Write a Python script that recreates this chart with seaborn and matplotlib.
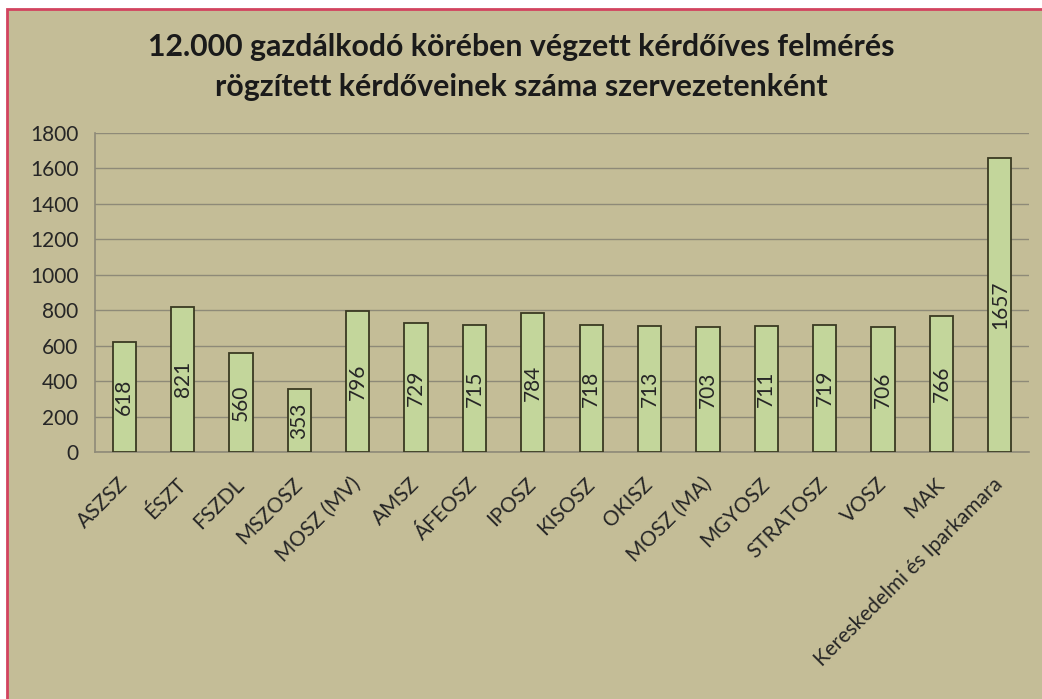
import matplotlib
matplotlib.use("Agg")
import matplotlib.pyplot as plt
import seaborn as sns
import pandas as pd
from matplotlib.patches import Rectangle
from matplotlib.ticker import MultipleLocator, FixedLocator

# --- data ---
szervezetek = ["ASZSZ", "ÉSZT", "FSZDL", "MSZOSZ", "MOSZ (MV)", "AMSZ", "ÁFEOSZ",
               "IPOSZ", "KISOSZ", "OKISZ", "MOSZ (MA)", "MGYOSZ", "STRATOSZ",
               "VOSZ", "MAK", "Kereskedelmi és Iparkamara"]
kerdoivek = [618, 821, 560, 353, 796, 729, 715, 784, 718, 713, 703, 711, 719,
             706, 766, 1657]
cim_sorok = ["12.000 gazdálkodó körében végzett kérdőíves felmérés",
             "rögzített kérdőveinek száma szervezetenként"]

BG = "#C4BD97"
BAR = "#C3D69B"
EDGE = "#3A3A22"
GRID = "#8E8A78"
TXT = "#262626"

sns.set_style("white")
plt.rcParams["font.family"] = ["Lato", "DejaVu Sans"]

df = pd.DataFrame({"szervezet": szervezetek, "db": kerdoivek})

fig = plt.figure(figsize=(10.42, 6.99), dpi=100, facecolor="white")
# tan panel with red frame (top and left edges visible)
fig.patches.append(Rectangle((7 / 1042, -0.01), 1.1, 1 - 9 / 699 + 0.01,
                             transform=fig.transFigure, facecolor=BG,
                             edgecolor="#D2435F", linewidth=2, zorder=-10))

ax = fig.add_axes([95 / 1042, 1 - 452 / 699, 934 / 1042, 319 / 699], zorder=1)
ax.set_facecolor("none")

sns.barplot(data=df, x="szervezet", y="db", color=BAR, width=0.4,
            edgecolor=EDGE, linewidth=1.3, saturation=1, ax=ax, zorder=3)

# data labels, vertical, centred in bar
for i, v in enumerate(kerdoivek):
    ax.text(i, v / 2, str(v), rotation=90, ha="center", va="center",
            fontsize=15, color=TXT, zorder=4)

ax.set_xlim(-0.5, len(szervezetek) - 0.5)
ax.set_ylim(0, 1800)
ax.yaxis.set_major_locator(MultipleLocator(200))
ax.grid(axis="y", color=GRID, linewidth=1, zorder=0)
ax.set_axisbelow(True)

for s in ["top", "right"]:
    ax.spines[s].set_visible(False)
for s in ["left", "bottom"]:
    ax.spines[s].set_color(GRID)
    ax.spines[s].set_linewidth(1.2)

ax.tick_params(axis="y", length=6, color=GRID, labelsize=15, labelcolor=TXT, pad=6)
ax.tick_params(axis="x", which="major", length=0, labelsize=15, labelcolor=TXT, pad=21)
ax.xaxis.set_minor_locator(FixedLocator([k - 0.5 for k in range(len(szervezetek) + 1)]))
ax.tick_params(axis="x", which="minor", length=6, color=GRID, direction="out")
plt.setp(ax.get_xticklabels(), rotation=45, ha="right", va="center",
         rotation_mode="anchor")

ax.set_xlabel("")
ax.set_ylabel("")

for sor, y in zip(cim_sorok, [47, 87]):
    fig.text(0.5, 1 - y / 699, sor, ha="center", va="center", fontsize=21.8,
             fontweight="bold", color="#1A1A1A")

fig.savefig("out.png", dpi=100, facecolor="white")
